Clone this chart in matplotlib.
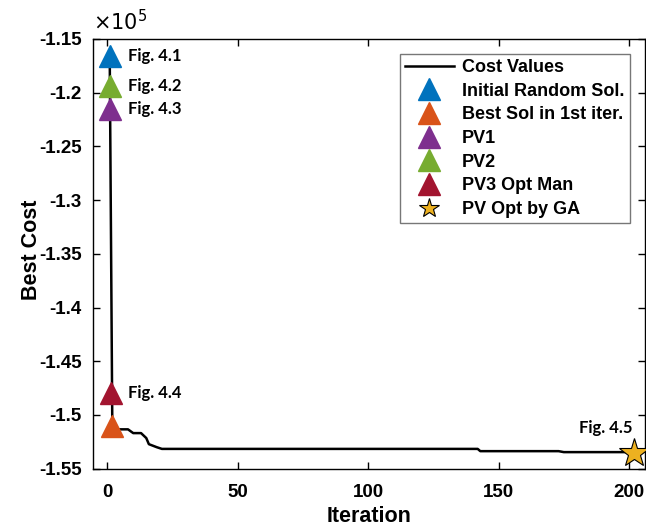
import matplotlib
matplotlib.use("Agg")
import matplotlib.pyplot as plt
from matplotlib.ticker import FuncFormatter

# Convergence curve (breakpoints)
iters = [1, 2, 8, 10, 13, 15, 16, 19, 21, 142, 143, 173, 175, 202]
cost = [-1.1657e5, -1.5134e5, -1.5134e5, -1.5169e5, -1.5169e5, -1.5215e5,
        -1.5272e5, -1.5300e5, -1.5316e5, -1.5316e5, -1.5337e5, -1.5337e5,
        -1.5346e5, -1.5346e5]

# Special points
marker_names = ["Initial Random Sol.", "Best Sol in 1st iter.", "PV1", "PV2", "PV3 Opt Man"]
marker_x = [1, 2, 1, 1, 1.5]
marker_y = [-1.1657e5, -1.5103e5, -1.2155e5, -1.1937e5, -1.4800e5]
marker_colors = ["#0072BD", "#D95319", "#7E2F8E", "#77AC30", "#A2142F"]
star_name = "PV Opt by GA"
star_x = 202
star_y = -1.5355e5

# Figure labels
fig_labels = ["Fig. 4.1", "Fig. 4.2", "Fig. 4.3", "Fig. 4.4"]
fig_label_y = [-1.1657e5, -1.1937e5, -1.2155e5, -1.4800e5]
fig5_label = "Fig. 4.5"

xticks = [0, 50, 100, 150, 200]
yticks = [-1.55e5, -1.5e5, -1.45e5, -1.4e5, -1.35e5, -1.3e5, -1.25e5, -1.2e5, -1.15e5]

plt.rcParams['axes.unicode_minus'] = False
fig = plt.figure(figsize=(6.46, 5.26), dpi=100)
ax = fig.add_axes([0.144, 0.109, 0.854, 0.817])

ax.plot(iters, cost, color="black", lw=1.8, label="Cost Values", zorder=2)
for n, x, y, c in zip(marker_names, marker_x, marker_y, marker_colors):
    ax.plot([x], [y], linestyle="none", marker="^", ms=16, color=c, label=n, zorder=3)
ax.plot([star_x], [star_y], linestyle="none", marker="*", ms=22, markerfacecolor="#EDB120",
        markeredgecolor="black", markeredgewidth=0.8, label=star_name, zorder=4, clip_on=False)

lab_font = dict(family="Lato", weight="bold", fontsize=12)
for t, y in zip(fig_labels, fig_label_y):
    ax.annotate(t, xy=(1, y), xytext=(13, 0), textcoords="offset points",
                va="center", ha="left", **lab_font)
ax.annotate(fig5_label, xy=(star_x, star_y), xytext=(-1, 18), textcoords="offset points",
            va="center", ha="right", **lab_font)

ax.set_xlim(-5.4, 206)
ax.set_ylim(-1.55e5, -1.15e5)
ax.set_xticks(xticks)
ax.set_yticks(yticks)
ax.yaxis.set_major_formatter(FuncFormatter(lambda v, p: f"{v/1e5:g}"))
ax.tick_params(direction="in", top=True, right=True, length=5, width=1, labelsize=13.5)
ax.tick_params(axis="x", pad=11)
ax.tick_params(axis="y", pad=8)
for lab in ax.get_xticklabels() + ax.get_yticklabels():
    lab.set_fontweight("bold")
    lab.set_family("Liberation Sans")
for s in ax.spines.values():
    s.set_linewidth(1)

ax.set_xlabel("Iteration", family="Liberation Sans", weight="bold", fontsize=15.5, labelpad=4)
ax.set_ylabel("Best Cost", family="Liberation Sans", weight="bold", fontsize=15.5, labelpad=1)
ax.yaxis.set_label_coords(-0.092, 0.51)
ax.text(0.0, 1.01, r"$\times10^{5}$", transform=ax.transAxes, fontsize=15,
        ha="left", va="bottom")

leg = ax.legend(loc="upper right", bbox_to_anchor=(0.973, 0.966), frameon=True, fancybox=False,
                edgecolor="#555555", prop=dict(family="Liberation Sans", weight="bold", size=13),
                handlelength=2.7, labelspacing=0.37, borderpad=0.3, handletextpad=0.45,
                borderaxespad=0)
leg.get_frame().set_linewidth(1)
leg.legend_handles[-1].set_markersize(15)

fig.savefig("out.png", dpi=100)
